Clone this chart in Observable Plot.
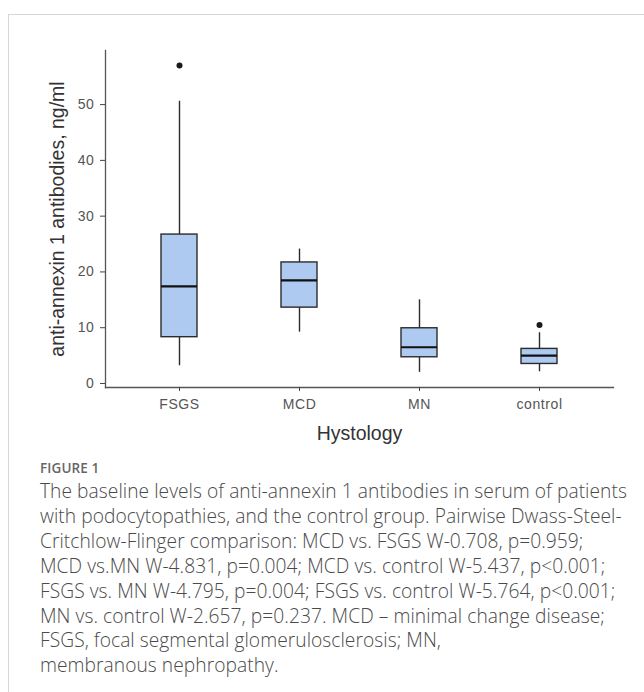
<!DOCTYPE html>
<html>
<head>
<meta charset="utf-8">
<script src="https://cdn.jsdelivr.net/npm/d3@7"></script>
<script src="https://cdn.jsdelivr.net/npm/@observablehq/plot@0.6"></script>
<style>
  html, body { margin: 0; padding: 0; background: #fff; }
  body { width: 644px; height: 692px; position: relative; overflow: hidden; }
  #card { position: absolute; left: 8px; top: 14px; width: 700px; height: 720px; border: 1px solid #d6d6d6; box-sizing: border-box; }
  #chart { position: absolute; left: 0; top: 0; }
  #chart svg [aria-label="x-axis tick label"] text,
  #chart svg [aria-label="y-axis tick label"] text { letter-spacing: 0.6px; font-family: "Liberation Sans", Arial, sans-serif; }
  #caption { position: absolute; left: 40px; top: 457px; width: 604px; font-family: "Open Sans", sans-serif; color: #4a4a4a; }
  #caption .fig { font-size: 13.5px; font-weight: 600; line-height: 22px; color: #666; letter-spacing: 0.1px; }
  #caption .txt { font-size: 19.2px; font-weight: 300; line-height: 24.9px; white-space: nowrap; letter-spacing: 0.05px; }
</style>
</head>
<body>
<div id="card"></div>
<div id="chart"></div>
<div id="caption">
  <div class="fig">FIGURE 1</div>
  <div class="txt" id="captext"></div>
</div>
<script>
// ---- data ----
const categories = ["FSGS", "MCD", "MN", "control"];
const whiskerLow  = [3.2, 9.2, 2.0, 2.1];
const q1          = [8.3, 13.6, 4.7, 3.5];
const median      = [17.4, 18.5, 6.5, 5.0];
const q3          = [26.7, 21.7, 9.9, 6.2];
const whiskerHigh = [50.6, 24.1, 15.0, 9.1];
const outlierGroup = ["FSGS", "control"];
const outlierValue = [57.0, 10.5];
const yTicks = [0, 10, 20, 30, 40, 50];
const yTitle = "anti-annexin 1 antibodies, ng/ml";
const xTitle = "Hystology";
const captionLines = [
  "The baseline levels of anti-annexin 1 antibodies in serum of patients",
  "with podocytopathies, and the control group. Pairwise Dwass-Steel-",
  "Critchlow-Flinger comparison: MCD vs. FSGS W-0.708, p=0.959;",
  "MCD vs.MN W-4.831, p=0.004; MCD vs. control W-5.437, p<0.001;",
  "FSGS vs. MN W-4.795, p=0.004; FSGS vs. control W-5.764, p<0.001;",
  "MN vs. control W-2.657, p=0.237. MCD \u2013 minimal change disease;",
  "FSGS, focal segmental glomerulosclerosis; MN,",
  "membranous nephropathy."
];

const boxes = categories.map((c, i) => ({
  group: c, lo: whiskerLow[i], q1: q1[i], med: median[i], q3: q3[i], hi: whiskerHigh[i]
}));
const outliers = outlierGroup.map((g, i) => ({group: g, value: outlierValue[i]}));

const fillBox = "#aecaf0";
const dark = "#2b2b2b";

const chart = Plot.plot({
  width: 644,
  height: 450,
  marginLeft: 105,
  marginRight: 31,
  marginTop: 50,
  marginBottom: 63,
  style: {background: "transparent", fontFamily: "'Liberation Sans', Arial, sans-serif", color: "#555"},
  x: {domain: categories, paddingInner: 0.7, paddingOuter: 0.45, axis: null},
  y: {domain: [-0.72, 59.7], axis: null},
  marks: [
    Plot.frame({anchor: "left", stroke: "#555", strokeWidth: 1.3}),
    Plot.frame({anchor: "bottom", stroke: "#555", strokeWidth: 1.3}),
    Plot.axisY({ticks: yTicks, tickSize: 5, tickPadding: 6, fontSize: 14, label: null, stroke: "#444", fill: "#555"}),
    Plot.axisX({tickSize: 4, tickPadding: 8, fontSize: 14, label: null, stroke: "#444", fill: "#555"}),
    Plot.ruleX(boxes, {x: "group", y1: "lo", y2: "hi", stroke: dark, strokeWidth: 1.4}),
    Plot.barY(boxes, {x: "group", y1: "q1", y2: "q3", fill: fillBox, stroke: dark, strokeWidth: 1.4}),
    Plot.tickY(boxes, {x: "group", y: "med", stroke: "#111", strokeWidth: 2.2}),
    Plot.dot(outliers, {x: "group", y: "value", r: 3, fill: "#1a1a1a", stroke: "none"}),
    Plot.text([yTitle], {frameAnchor: "left", rotate: -90, dx: -48, dy: 0, textAnchor: "middle", lineAnchor: "middle", fontSize: 19.5, fill: "#333"}),
    Plot.text([xTitle], {frameAnchor: "bottom", dy: 46, textAnchor: "middle", lineAnchor: "middle", fontSize: 19.5, fill: "#333"})
  ]
});
document.getElementById("chart").appendChild(chart);
document.getElementById("captext").innerHTML = captionLines.map(l => l.replace(/&/g,"&amp;").replace(/</g,"&lt;")).join("<br>");
</script>
</body>
</html>
